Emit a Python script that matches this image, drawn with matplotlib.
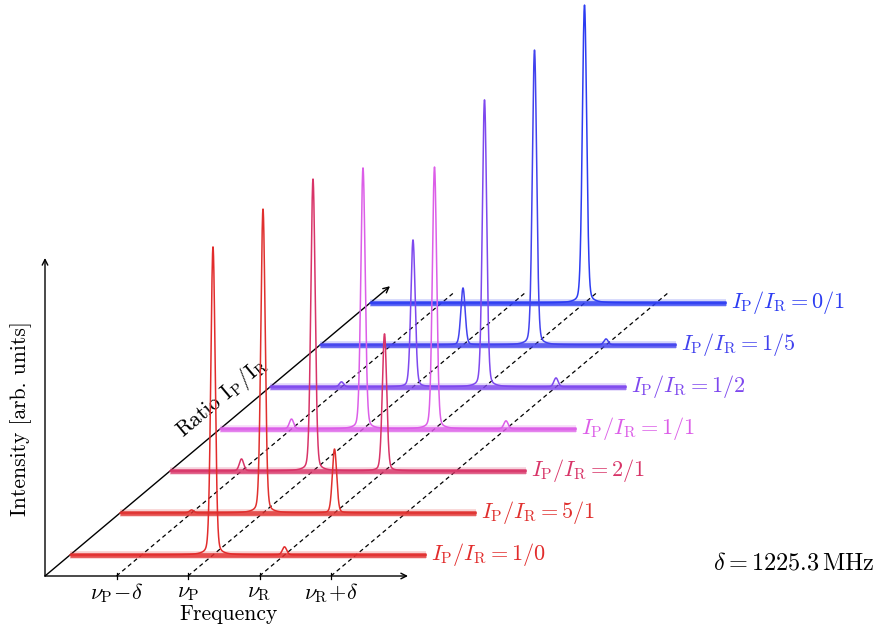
import numpy as np
import matplotlib
matplotlib.use("Agg")
import matplotlib.pyplot as plt

plt.rcParams['mathtext.fontset'] = 'cm'
plt.rcParams['font.family'] = 'serif'
plt.rcParams['font.serif'] = ['cmr10', 'DejaVu Serif']
plt.rcParams['axes.unicode_minus'] = False

# ratio labels, front (bottom) trace first
ratios = ['1/0', '5/1', '2/1', '1/1', '1/2', '1/5', '0/1']
colors = ['#e22c2c', '#e0302e', '#d83468', '#dc5ee8', '#7e48ee', '#4242ee', '#2c3cf2']

# peak heights (arb. units) at nu_P - delta, nu_P, nu_R, nu_R + delta
h_p_minus = [0.0, 0.010, 0.040, 0.033, 0.017, 0.0, 0.0]
h_p = [1.027, 1.013, 0.973, 0.870, 0.490, 0.190, 0.0]
h_r = [0.027, 0.213, 0.457, 0.873, 0.957, 0.983, 0.993]
h_r_plus = [0.0, 0.0, 0.0, 0.027, 0.030, 0.020, 0.0]

# frequency axis in units of delta, counted from nu_P - 2 delta
peak_pos = [1.0, 2.0, 3.0, 4.0]
tick_labels = [r'$\nu_\mathrm{P}\!-\!\delta$', r'$\nu_\mathrm{P}$',
               r'$\nu_\mathrm{R}$', r'$\nu_\mathrm{R}\!+\!\delta$']
f_span = 4.98
sigma = 0.030      # gaussian core width (delta units)
gamma = 0.040      # lorentzian wing width
frac_l = 0.15
delta_mhz = 1225.3

# layout: pixel geometry of the pseudo 3d projection
W, H = 880, 633
ox, oy = 45, 576          # origin in px
px_f = 71.5               # px per delta
px_z = 300.0              # px per intensity unit
step_x = 50 / px_f        # depth step, horizontal (delta units)
step_y = 42 / px_z        # depth step, vertical (intensity units)

fig = plt.figure(figsize=(W / 100, H / 100), dpi=100)
ax = fig.add_axes([0, 0, 1, 1])
ax.set_xlim(-ox / px_f, (W - ox) / px_f)
ax.set_ylim(-(H - oy) / px_z, oy / px_z)
ax.axis('off')

arr = dict(arrowstyle='->', lw=1.0, color='black', mutation_scale=10, shrinkA=0, shrinkB=0)
# axes
ax.annotate('', xy=(0, (oy - 258) / px_z), xytext=(0, 0), arrowprops=arr)
ax.annotate('', xy=((408 - ox) / px_f, 0), xytext=(0, 0), arrowprops=arr)
d_end = 6.9
ax.annotate('', xy=(d_end * step_x, d_end * step_y), xytext=(0, 0), arrowprops=arr)

# dashed guide lines and ticks
d_dash = 6.76
for p in peak_pos:
    ax.plot([p, p + d_dash * step_x], [0, d_dash * step_y], color='black',
            lw=0.9, ls=(0, (3.4, 2.6)), zorder=1)
    ax.plot([p, p], [-3 / px_z, 3 / px_z], color='black', lw=0.9)

for p, lab in zip(peak_pos, tick_labels):
    ax.text(p, -17 / px_z, lab, ha='center', va='center', fontsize=16)

ax.text((228 - ox) / px_f, -(614 - oy) / px_z, 'Frequency', ha='center', va='center', fontsize=15.5)
ax.text((21 - ox) / px_f, (oy - 419) / px_z, 'Intensity [arb. units]', ha='center', va='center',
        rotation=90, fontsize=15.5)
ang = np.degrees(np.arctan2(42, 50))
ax.text((222 - ox) / px_f, (oy - 398) / px_z, r'Ratio $\mathrm{I_P/I_R}$', ha='center', va='center',
        rotation=ang, rotation_mode='anchor', fontsize=15.5)

u = np.linspace(0, f_span, 4000)
for i, (lab, c) in enumerate(zip(ratios, colors)):
    d = 0.5 + i
    hs = [h_p_minus[i], h_p[i], h_r[i], h_r_plus[i]]
    z = np.zeros_like(u)
    for p, h in zip(peak_pos, hs):
        g = np.exp(-0.5 * ((u - p) / sigma) ** 2)
        lz = 1 / (1 + ((u - p) / gamma) ** 2)
        z += h * ((1 - frac_l) * g + frac_l * lz)
    x0 = d * step_x
    y0 = d * step_y
    zo = 10 + (len(ratios) - i) * 3
    ax.plot([x0, x0 + f_span], [y0, y0], color=c, lw=5.5, alpha=0.22, solid_capstyle='butt', zorder=zo)
    ax.plot([x0, x0 + f_span], [y0, y0], color=c, lw=3.4, alpha=0.8, solid_capstyle='butt', zorder=zo + 1)
    ax.plot(u + x0, z + y0, color=c, lw=1.1, zorder=zo + 2)
    ax.text(x0 + f_span + 5 / px_f, y0, r'$I_\mathrm{P}/I_\mathrm{R} = %s$' % lab, color=c,
            ha='left', va='center', fontsize=16)

ax.text((875 - ox) / px_f, (oy - 563) / px_z, r'$\delta = 1225.3\,\mathrm{MHz}$', ha='right', va='center',
        fontsize=17.5)

fig.savefig('out.png', dpi=100)
